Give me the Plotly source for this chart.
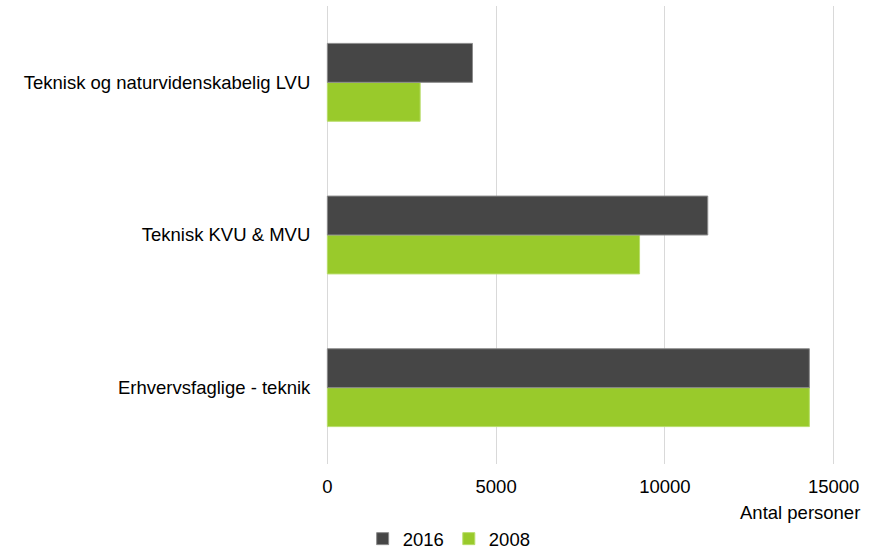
import plotly.graph_objects as go

categories = ["Erhvervsfaglige - teknik", "Teknisk KVU & MVU", "Teknisk og naturvidenskabelig LVU"]
values_2016 = [14280, 11270, 4300]
values_2008 = [14280, 9250, 2750]
tick_vals = [0, 5000, 10000, 15000]
tick_text = ["0", "5000", "10000", "15000"]

FONT = "Liberation Sans, Arial, sans-serif"
FS = 18.5

fig = go.Figure()
fig.add_trace(go.Bar(
    y=categories, x=values_2008, name="2008", orientation="h",
    marker=dict(color="#99ca2b", line=dict(color="#b8dd6a", width=1)),
))
fig.add_trace(go.Bar(
    y=categories, x=values_2016, name="2016", orientation="h",
    marker=dict(color="#464646", line=dict(color="#8c8c8c", width=1)),
))

fig.update_layout(
    width=871, height=549,
    margin=dict(l=326.15, r=36.15, t=6, b=85, autoexpand=False),
    paper_bgcolor="white", plot_bgcolor="white",
    barmode="group", bargap=0.49, bargroupgap=0,
    font=dict(family=FONT, size=FS, color="#000000"),
    showlegend=True,
    legend=dict(orientation="h", traceorder="reversed", x=0.072, xanchor="left",
                y=-0.164, yanchor="middle", yref="paper",
                font=dict(size=FS), itemwidth=30, tracegroupgap=0,
                bgcolor="rgba(0,0,0,0)"),
    xaxis=dict(range=[-40, 15040], tickvals=tick_vals, ticktext=tick_text,
               showgrid=True, gridcolor="#d9d9d9", gridwidth=1,
               zeroline=False, showline=False,
               ticks="outside", ticklen=6, tickcolor="rgba(0,0,0,0)",
               tickfont=dict(size=FS)),
    yaxis=dict(showgrid=False, zeroline=False, showline=False,
               ticks="outside", ticklen=11, tickcolor="rgba(0,0,0,0)",
               tickfont=dict(size=FS)),
    annotations=[dict(text="Antal personer", xref="paper", yref="paper",
                      x=1.0524, y=-0.105, xanchor="right", yanchor="middle",
                      showarrow=False, font=dict(size=FS))],
)

fig.write_html("out.html", config={"displayModeBar": False},
               post_script="document.body.style.margin='0';")
